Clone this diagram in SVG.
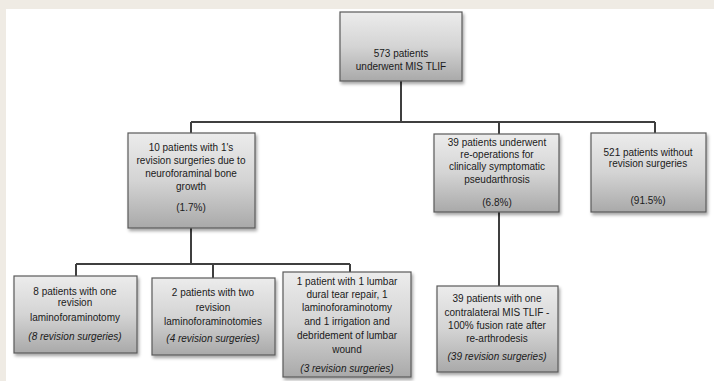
<svg xmlns="http://www.w3.org/2000/svg" width="714" height="381" viewBox="0 0 714 381">
<defs>
<linearGradient id="g" x1="0" y1="0" x2="0" y2="1">
<stop offset="0" stop-color="#ececec"/>
<stop offset="0.5" stop-color="#d4d4d4"/>
<stop offset="1" stop-color="#a9a9a9"/>
</linearGradient>
<filter id="sh" x="-10%" y="-10%" width="125%" height="130%">
<feDropShadow dx="1.5" dy="2.5" stdDeviation="1.5" flood-color="#000" flood-opacity="0.35"/>
</filter>
<style>
.box{fill:url(#g);stroke:#5a5a5a;stroke-width:1.2;filter:url(#sh)}
.t{font-family:"Liberation Sans",Arial,sans-serif;font-size:10px;fill:#1a1a1a;text-anchor:middle}
.i{font-style:italic}
.c{fill:none;stroke:#3f3f3f;stroke-width:2}
</style>
</defs>
<rect width="714" height="381" fill="#ffffff"/>
<rect x="0" y="0" width="714" height="9" fill="#efebe4"/>
<rect x="0" y="0" width="6" height="381" fill="#efebe4"/>

<g id="connectors">
<path class="c" d="M401 80 V122 M191 122 H655 M191 122 V133 M499 122 V134 M655 122 V133"/>
<path class="c" d="M191 228 V264 M76 264 H350 M76 264 V276 M213 264 V278 M350 264 V272"/>
<path class="c" d="M499 212 V286"/>
</g>

<g id="n_top">
<rect class="box" x="340" y="12" width="122" height="69"/>
<text class="t" x="401" y="57">573 patients</text>
<text class="t" x="401" y="70">underwent MIS TLIF</text>
</g>

<g id="n_10">
<rect class="box" x="128" y="133" width="127" height="95"/>
<text class="t" x="191" y="151">10 patients with 1's</text>
<text class="t" x="191" y="164">revision surgeries due to</text>
<text class="t" x="191" y="177">neuroforaminal bone</text>
<text class="t" x="191" y="190">growth</text>
<text class="t" x="191" y="211">(1.7%)</text>
</g>

<g id="n_39a">
<rect class="box" x="434" y="134" width="125" height="78"/>
<text class="t" x="497" y="146">39 patients underwent</text>
<text class="t" x="497" y="158">re-operations for</text>
<text class="t" x="497" y="170">clinically symptomatic</text>
<text class="t" x="497" y="183">pseudarthrosis</text>
<text class="t" x="497" y="206">(6.8%)</text>
</g>

<g id="n_521">
<rect class="box" x="591" y="133" width="115" height="79"/>
<text class="t" x="648" y="156">521 patients without</text>
<text class="t" x="648" y="167">revision surgeries</text>
<text class="t" x="648" y="204">(91.5%)</text>
</g>

<g id="n_8">
<rect class="box" x="14" y="276" width="123" height="77"/>
<text class="t" x="75" y="295">8 patients with one</text>
<text class="t" x="75" y="306">revision</text>
<text class="t" x="75" y="321">laminoforaminotomy</text>
<text class="t i" x="75" y="340">(8 revision surgeries)</text>
</g>

<g id="n_2">
<rect class="box" x="152" y="278" width="123" height="77"/>
<text class="t" x="213" y="296">2 patients with two</text>
<text class="t" x="213" y="311">revision</text>
<text class="t" x="213" y="325">laminoforaminotomies</text>
<text class="t i" x="213" y="342">(4 revision surgeries)</text>
</g>

<g id="n_1">
<rect class="box" x="283" y="272" width="128" height="105"/>
<text class="t" x="347" y="285">1 patient with 1 lumbar</text>
<text class="t" x="347" y="298">dural tear repair, 1</text>
<text class="t" x="347" y="311">laminoforaminotomy</text>
<text class="t" x="347" y="325">and 1 irrigation and</text>
<text class="t" x="347" y="339">debridement of lumbar</text>
<text class="t" x="347" y="353">wound</text>
<text class="t i" x="347" y="372">(3 revision surgeries)</text>
</g>

<g id="n_39b">
<rect class="box" x="437" y="286" width="121" height="86"/>
<text class="t" x="497" y="302">39 patients with one</text>
<text class="t" x="497" y="316">contralateral MIS TLIF -</text>
<text class="t" x="497" y="329">100% fusion rate after</text>
<text class="t" x="497" y="342">re-arthrodesis</text>
<text class="t i" x="497" y="360">(39 revision surgeries)</text>
</g>
</svg>
